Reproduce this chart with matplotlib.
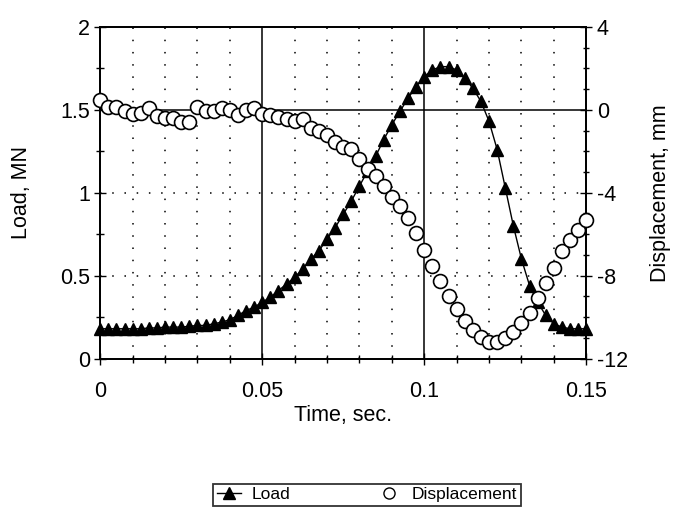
import numpy as np
import matplotlib
matplotlib.use("Agg")
import matplotlib.pyplot as plt
from matplotlib.ticker import MultipleLocator, FixedLocator
from matplotlib.lines import Line2D

plt.rcParams['font.family'] = ['Liberation Sans', 'DejaVu Sans']
plt.rcParams['axes.unicode_minus'] = False

# time step 0.0025 s, 61 samples
time = [i * 0.0025 for i in range(61)]

load = [0.18, 0.18, 0.18, 0.18, 0.18, 0.18, 0.185, 0.185, 0.19, 0.19,
        0.19, 0.195, 0.20, 0.20, 0.21, 0.22, 0.235, 0.26, 0.29, 0.31,
        0.34, 0.37, 0.41, 0.45, 0.49, 0.54, 0.60, 0.65, 0.72, 0.79,
        0.87, 0.95, 1.04, 1.13, 1.22, 1.32, 1.41, 1.49, 1.57, 1.64,
        1.70, 1.74, 1.76, 1.76, 1.74, 1.69, 1.63, 1.55, 1.43, 1.26,
        1.03, 0.80, 0.60, 0.44, 0.34, 0.26, 0.21, 0.19, 0.18, 0.18,
        0.18]

displacement = [0.47, 0.14, 0.13, -0.04, -0.21, -0.14, 0.09, -0.31, -0.40, -0.41,
                -0.58, -0.59, 0.13, -0.04, -0.05, 0.10, 0.01, -0.24, 0.0, 0.07,
                -0.18, -0.27, -0.36, -0.44, -0.54, -0.46, -0.87, -1.04, -1.21, -1.55,
                -1.79, -1.88, -2.38, -2.86, -3.19, -3.69, -4.2, -4.63, -5.22, -5.95,
                -6.78, -7.52, -8.25, -8.98, -9.62, -10.2, -10.6, -10.95, -11.2, -11.2,
                -11.0, -10.74, -10.3, -9.8, -9.06, -8.34, -7.64, -6.83, -6.26, -5.79,
                -5.3]

fig = plt.figure(figsize=(6.77, 5.16), dpi=100)
ax1 = fig.add_axes([0.148, 0.305, 0.718, 0.643])

# grid
for x in [0.01, 0.02, 0.03, 0.04, 0.06, 0.07, 0.08, 0.09, 0.11, 0.12, 0.13, 0.14]:
    ax1.axvline(x, color='black', lw=1.1, ls=(0, (1, 7)), zorder=0)
for x in [0.05, 0.1]:
    ax1.axvline(x, color='black', lw=1.1, zorder=0)
for y in [0.5, 1.0]:
    ax1.axhline(y, color='black', lw=1.1, ls=(0, (1, 7)), zorder=0)
ax1.axhline(1.5, color='black', lw=1.1, zorder=0)

ax1.plot(time, load, color='black', lw=1.0, marker='^', markersize=8.5,
         markerfacecolor='black', markeredgecolor='black', clip_on=False, zorder=3)

ax1.set_xlim(0, 0.15)
ax1.set_ylim(0, 2)
ax1.xaxis.set_major_locator(FixedLocator([0, 0.05, 0.1, 0.15]))
ax1.set_xticklabels(['0', '0.05', '0.1', '0.15'])
ax1.xaxis.set_minor_locator(MultipleLocator(0.01))
ax1.yaxis.set_major_locator(FixedLocator([0, 0.5, 1, 1.5, 2]))
ax1.set_yticklabels(['0', '0.5', '1', '1.5', '2'])
ax1.yaxis.set_minor_locator(MultipleLocator(0.25))
ax1.tick_params(which='both', direction='inout', width=1, colors='black',
                labelsize=15.5)
ax1.tick_params(which='major', length=8)
ax1.tick_params(which='minor', length=6)
ax1.tick_params(axis='x', pad=12)
ax1.set_xlabel('Time, sec.', fontsize=15.5, labelpad=2)
ax1.set_ylabel('Load, MN', fontsize=15.5, labelpad=20)

ax2 = ax1.twinx()
ax2.plot(time, displacement, ls='none', marker='o', markersize=10,
         markerfacecolor='white', markeredgecolor='black', markeredgewidth=1.2,
         clip_on=False, zorder=4)
ax2.set_ylim(-12, 4)
ax2.yaxis.set_major_locator(FixedLocator([-12, -8, -4, 0, 4]))
ax2.set_yticklabels(['-12', '-8', '-4', '0', '4'])
ax2.yaxis.set_minor_locator(MultipleLocator(1))
ax2.tick_params(which='both', direction='inout', width=1, labelsize=15.5)
ax2.tick_params(which='major', length=8)
ax2.tick_params(which='minor', length=5)
ax2.set_ylabel('Displacement, mm', fontsize=15.5, labelpad=16)

for ax in (ax1, ax2):
    for s in ax.spines.values():
        s.set_linewidth(1.3)

handles = [
    Line2D([], [], color='black', lw=1, marker='^', markersize=8),
    Line2D([], [], ls='none', marker='o', markersize=8,
           markerfacecolor='white', markeredgecolor='black'),
]
leg = fig.legend(handles, ['Load', 'Displacement'], ncol=2,
                 loc='center', bbox_to_anchor=(0.542, 0.041),
                 frameon=True, fancybox=False, edgecolor='black',
                 fontsize=12.5, handlelength=1.4, columnspacing=5,
                 borderpad=0.2, handletextpad=0.6)
leg.get_frame().set_linewidth(1.3)

fig.savefig('out.png', dpi=100)
